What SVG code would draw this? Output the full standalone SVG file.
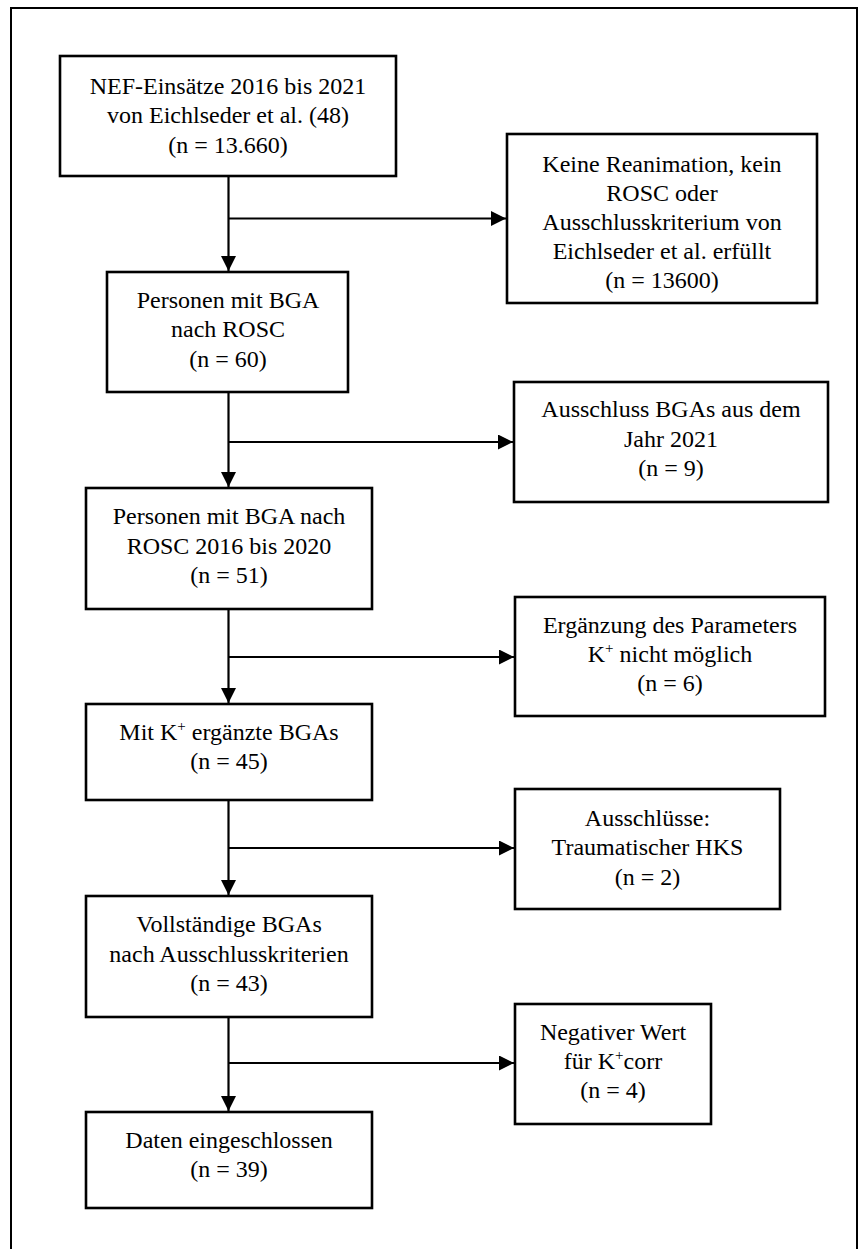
<svg xmlns="http://www.w3.org/2000/svg" width="862" height="1249" viewBox="0 0 862 1249">
<style>
.box{fill:#fff;stroke:#000;stroke-width:2.6}
.frame{fill:none;stroke:#000;stroke-width:2}
.t{font-family:"Liberation Serif","Times New Roman",serif;font-size:24px;fill:#000;text-anchor:middle}
.c{fill:none;stroke:#000;stroke-width:2.2}
.sup{font-size:15px}
</style>
<defs>
<marker id="ah" markerUnits="userSpaceOnUse" markerWidth="15" markerHeight="15" refX="15" refY="7.5" orient="auto">
<path d="M0,0 L15,7.5 L0,15 z" fill="#000"/>
</marker>
</defs>
<rect class="frame" x="11" y="8" width="846" height="1260"/>
<g id="connectors">
<line class="c" x1="228.5" y1="176" x2="228.5" y2="271" marker-end="url(#ah)"/>
<line class="c" x1="228.5" y1="218.5" x2="506" y2="218.5" marker-end="url(#ah)"/>
<line class="c" x1="228.5" y1="392" x2="228.5" y2="487" marker-end="url(#ah)"/>
<line class="c" x1="228.5" y1="442" x2="513" y2="442" marker-end="url(#ah)"/>
<line class="c" x1="228.5" y1="609" x2="228.5" y2="703" marker-end="url(#ah)"/>
<line class="c" x1="228.5" y1="657" x2="514" y2="657" marker-end="url(#ah)"/>
<line class="c" x1="228.5" y1="800" x2="228.5" y2="895" marker-end="url(#ah)"/>
<line class="c" x1="228.5" y1="848" x2="514" y2="848" marker-end="url(#ah)"/>
<line class="c" x1="228.5" y1="1017" x2="228.5" y2="1111" marker-end="url(#ah)"/>
<line class="c" x1="228.5" y1="1063" x2="514" y2="1063" marker-end="url(#ah)"/>
</g>
<g id="n1">
<rect class="box" x="60" y="56" width="336" height="120"/>
<text class="t" x="228" y="94">NEF-Einsätze 2016 bis 2021</text>
<text class="t" x="228" y="123">von Eichlseder et al. (48)</text>
<text class="t" x="228" y="153">(n = 13.660)</text>
</g>
<g id="r1">
<rect class="box" x="507" y="134" width="310" height="169"/>
<text class="t" x="662" y="172">Keine Reanimation, kein</text>
<text class="t" x="662" y="201">ROSC oder</text>
<text class="t" x="662" y="230">Ausschlusskriterium von</text>
<text class="t" x="662" y="259">Eichlseder et al. erfüllt</text>
<text class="t" x="662" y="288">(n = 13600)</text>
</g>
<g id="n2">
<rect class="box" x="107" y="272" width="241" height="120"/>
<text class="t" x="228" y="308">Personen mit BGA</text>
<text class="t" x="228" y="337">nach ROSC</text>
<text class="t" x="228" y="367">(n = 60)</text>
</g>
<g id="r2">
<rect class="box" x="514" y="382" width="314" height="120"/>
<text class="t" x="671" y="417">Ausschluss BGAs aus dem</text>
<text class="t" x="671" y="447">Jahr 2021</text>
<text class="t" x="671" y="476">(n = 9)</text>
</g>
<g id="n3">
<rect class="box" x="86" y="488" width="286" height="121"/>
<text class="t" x="229" y="524">Personen mit BGA nach</text>
<text class="t" x="229" y="554">ROSC 2016 bis 2020</text>
<text class="t" x="229" y="583">(n = 51)</text>
</g>
<g id="r3">
<rect class="box" x="515" y="597" width="310" height="119"/>
<text class="t" x="670" y="633">Ergänzung des Parameters</text>
<text class="t" x="670" y="662">K<tspan class="sup" dy="-9">+</tspan><tspan dy="9"> nicht möglich</tspan></text>
<text class="t" x="670" y="691">(n = 6)</text>
</g>
<g id="n4">
<rect class="box" x="86" y="704" width="286" height="96"/>
<text class="t" x="229" y="740">Mit K<tspan class="sup" dy="-9">+</tspan><tspan dy="9"> ergänzte BGAs</tspan></text>
<text class="t" x="229" y="769">(n = 45)</text>
</g>
<g id="r4">
<rect class="box" x="515" y="789" width="265" height="120"/>
<text class="t" x="647.5" y="826">Ausschlüsse:</text>
<text class="t" x="647.5" y="855">Traumatischer HKS</text>
<text class="t" x="647.5" y="885">(n = 2)</text>
</g>
<g id="n5">
<rect class="box" x="86" y="896" width="286" height="121"/>
<text class="t" x="229" y="932">Vollständige BGAs</text>
<text class="t" x="229" y="962">nach Ausschlusskriterien</text>
<text class="t" x="229" y="991">(n = 43)</text>
</g>
<g id="r5">
<rect class="box" x="515" y="1004" width="196" height="120"/>
<text class="t" x="613" y="1040">Negativer Wert</text>
<text class="t" x="613" y="1069">für K<tspan class="sup" dy="-9">+</tspan><tspan dy="9">corr</tspan></text>
<text class="t" x="613" y="1098">(n = 4)</text>
</g>
<g id="n6">
<rect class="box" x="86" y="1112" width="286" height="96"/>
<text class="t" x="229" y="1148">Daten eingeschlossen</text>
<text class="t" x="229" y="1177">(n = 39)</text>
</g>
</svg>
